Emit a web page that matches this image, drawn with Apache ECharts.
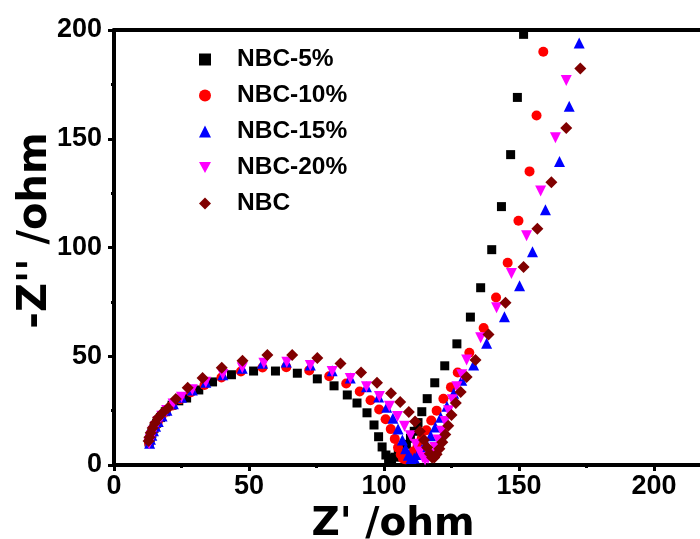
<!DOCTYPE html>
<html>
<head>
<meta charset="utf-8">
<script src="https://cdn.jsdelivr.net/npm/echarts@6/dist/echarts.min.js"></script>
<style>html,body{margin:0;padding:0;background:#fff;}#c{width:700px;height:539px;}</style>
</head>
<body>
<div id="c"></div>
<script>
// Series names
const seriesNames = ['NBC-5%', 'NBC-10%', 'NBC-15%', 'NBC-20%', 'NBC'];

// [Z' (ohm), -Z'' (ohm)] pairs
const nbc5 = [[13,10.5],[13.4,12.5],[14,14.5],[14.8,16.8],[15.8,19.2],[17.2,21.8],[19,24.5],[21.5,27.5],[24,29.5],[26.9,30.8],[31.4,34.5],[36.5,38.2],[43.5,41.5],[51.7,43.2],[59.8,43.2],[67.9,42.2],[75.3,39.6],[81.5,36.4],[86.4,32.2],[90,28.5],[93.7,24],[96.3,18.4],[98,13],[99.3,8.3],[100.7,4.6],[101.7,3],[102.8,2.8],[104,3.6],[105.3,5],[106.8,7],[108.3,9.5],[109.8,12.3],[111.2,15.5],[112.6,19.5],[114,24.5],[116,30.5],[118.8,37.8],[122.5,45.6],[127,55.7],[132,68],[135.8,81.5],[139.9,99],[143.5,118.8],[146.9,142.7],[149.4,169],[151.7,198]];
const nbc10 = [[13,10],[13.3,11.8],[13.8,13.6],[14.4,15.5],[15.2,17.5],[16.2,19.6],[17.5,22],[19.2,24.5],[21.5,27.3],[24.5,30.3],[28.5,33.5],[33.5,36.8],[39.8,40.2],[47,43],[55,44.8],[63.8,45],[72.3,43.5],[79.7,40.8],[86,37.5],[91,33.8],[95,29.8],[98.2,25.5],[100.6,21],[102.5,16.5],[104,12],[105.2,8],[106.2,4.8],[107,3],[108,2.6],[109.5,4],[111,6.3],[112.5,9],[114,12.3],[115.7,16],[117.5,20.5],[119.5,25],[122,30.5],[124.8,35.8],[127.3,42.5],[131.6,51.6],[136.9,63],[141.5,77],[145.8,93],[149.8,112.3],[153.9,135],[156.5,160.7],[159,190]];
const nbc15 = [[13.2,10],[13.5,11.8],[14,13.7],[14.6,15.7],[15.4,17.8],[16.4,20],[17.8,22.5],[19.6,25.2],[22,28.2],[25,31.2],[29,34.5],[34,38],[40.3,41.5],[47.5,44.5],[55,46.8],[63.8,47.4],[72.7,46],[80.8,43.3],[87.5,40],[93.5,36],[98,31.3],[101,26.5],[103.3,21.5],[105.2,16.5],[106.8,11.5],[108,7.5],[109,4.5],[110,3],[111.2,3.2],[112.5,4.8],[114,7],[115.6,10],[117.3,13.5],[119,17.5],[121,22],[123.3,27],[125.8,33],[128.8,39],[133.2,46],[138,56],[144.6,68.2],[150.2,82.4],[155,98],[159.8,117.4],[165,139.5],[168.6,165],[172.3,194]];
const nbc20 = [[13,9.8],[13.4,11.6],[13.9,13.5],[14.5,15.5],[15.3,17.6],[16.3,19.9],[17.7,22.4],[19.5,25.1],[21.9,28.1],[25,31.2],[29,34.6],[34,38],[40.3,41.6],[47.5,44.7],[55.5,46.8],[64,47.2],[72.7,45.8],[80.8,43],[87.5,39.8],[93.5,36],[98.3,31.5],[102,27],[105,22.3],[107.6,17.8],[109.8,13.5],[111.7,9.5],[113.2,6],[114.3,3.5],[115.2,2.3],[116.3,3],[117.5,5],[118.8,8],[120,11.5],[121.3,15.5],[122.6,20],[123.9,25],[125.3,30],[127,36],[128.8,41.5],[130.6,48.3],[135.8,58.5],[141.7,72.3],[147.2,88],[152.8,105.4],[158,126],[163.5,150.5],[167.5,176.8]];
const nbc = [[12.8,11],[13.1,12.8],[13.6,14.8],[14.3,17],[15.2,19.3],[16.3,21.7],[18,24],[20,26.2],[22.9,30.4],[27.3,35.5],[32.8,40],[39.9,44.7],[47.6,47.9],[56.8,50.6],[66,50.6],[75.3,49.2],[83.9,46.7],[91.5,42.5],[97.4,37.8],[102.6,33],[106,29],[109.2,24.4],[111.5,20],[113.3,15.5],[114.8,11.5],[116,8],[117,5.2],[117.8,3.5],[118.6,3.5],[119.5,5],[120.5,7.5],[121.6,10.5],[122.7,14],[123.8,18],[125,23],[126.6,28.5],[128.4,33.6],[130.6,40.5],[133.9,48.3],[138.7,60],[145,74.6],[151.7,91],[156.8,108.6],[162,130],[167.5,155],[172.7,182.3]];

// Axis settings
const xMin = 0, xMax = 220, xStep = 50;
const yMin = 0, yMax = 200, yStep = 50;

const seriesData = [nbc5, nbc10, nbc15, nbc20, nbc];
const colors = ['#000000', '#ff0000', '#0000ff', '#ff00ff', '#800000'];
const symbols = ['rect', 'circle', 'triangle', 'path://M0,0 L10,0 L5,9 Z', 'diamond'];
const sizes = [9, 10, 11, 11, 12];

const font = 'Liberation Sans, Arial, sans-serif';
const titleFont = 'DejaVu Sans, sans-serif';
const chart = echarts.init(document.getElementById('c'), null, {renderer: 'canvas'});
chart.setOption({
  animation: false,
  backgroundColor: '#ffffff',
  grid: {left: 114, right: -8, top: 30, bottom: 74, containLabel: false, outerBoundsMode: 'none'},
  legend: {
    orient: 'vertical', left: 194, top: 42,
    itemWidth: 12, itemHeight: 12, itemGap: 11,
    data: seriesNames.map((n, i) => ({name: n, icon: symbols[i]})),
    textStyle: {fontFamily: font, fontWeight: 'bold', fontSize: 24.5, color: '#000', lineHeight: 24, padding: [0, 0, 0, 21]}
  },
  xAxis: [{
    type: 'value', min: xMin, max: xMax, interval: xStep,
    name: "Z' /ohm", nameLocation: 'middle', nameGap: 40, nameMoveOverlap: false,
    nameTextStyle: {fontFamily: titleFont, fontWeight: 'bold', fontSize: 39, color: '#000', padding: [0, 36, 0, 0]},
    axisLine: {show: true, onZero: false, lineStyle: {color: '#000', width: 4}},
    axisTick: {show: true, inside: false, length: 6, lineStyle: {color: '#000', width: 3}},
    minorTick: {show: true, splitNumber: 2, length: 3, lineStyle: {color: '#000', width: 3}},
    axisLabel: {fontFamily: font, fontWeight: 'bold', fontSize: 27, color: '#000', margin: 8, showMaxLabel: false},
    splitLine: {show: false}
  }, {
    type: 'value', position: 'top', min: xMin, max: xMax,
    axisLine: {show: true, onZero: false, lineStyle: {color: '#000', width: 4}},
    axisTick: {show: false}, axisLabel: {show: false}, splitLine: {show: false}
  }],
  yAxis: {
    type: 'value', min: yMin, max: yMax, interval: yStep,
    name: "-Z'' /ohm", nameLocation: 'middle', nameGap: 58, nameMoveOverlap: false,
    nameTextStyle: {fontFamily: titleFont, fontWeight: 'bold', fontSize: 40, color: '#000', padding: [0, 0, 0, 34]},
    axisLine: {show: true, onZero: false, lineStyle: {color: '#000', width: 4}},
    axisTick: {show: true, inside: false, length: 6, lineStyle: {color: '#000', width: 3}},
    minorTick: {show: true, splitNumber: 2, length: 3, lineStyle: {color: '#000', width: 3}},
    axisLabel: {fontFamily: font, fontWeight: 'bold', fontSize: 27, color: '#000', margin: 12},
    splitLine: {show: false}
  },
  series: seriesNames.map((n, i) => ({
    name: n, type: 'scatter', xAxisIndex: 0,
    data: seriesData[i], symbol: symbols[i], symbolSize: sizes[i],
    itemStyle: {color: colors[i], opacity: 1}
  }))
});
</script>
</body>
</html>
